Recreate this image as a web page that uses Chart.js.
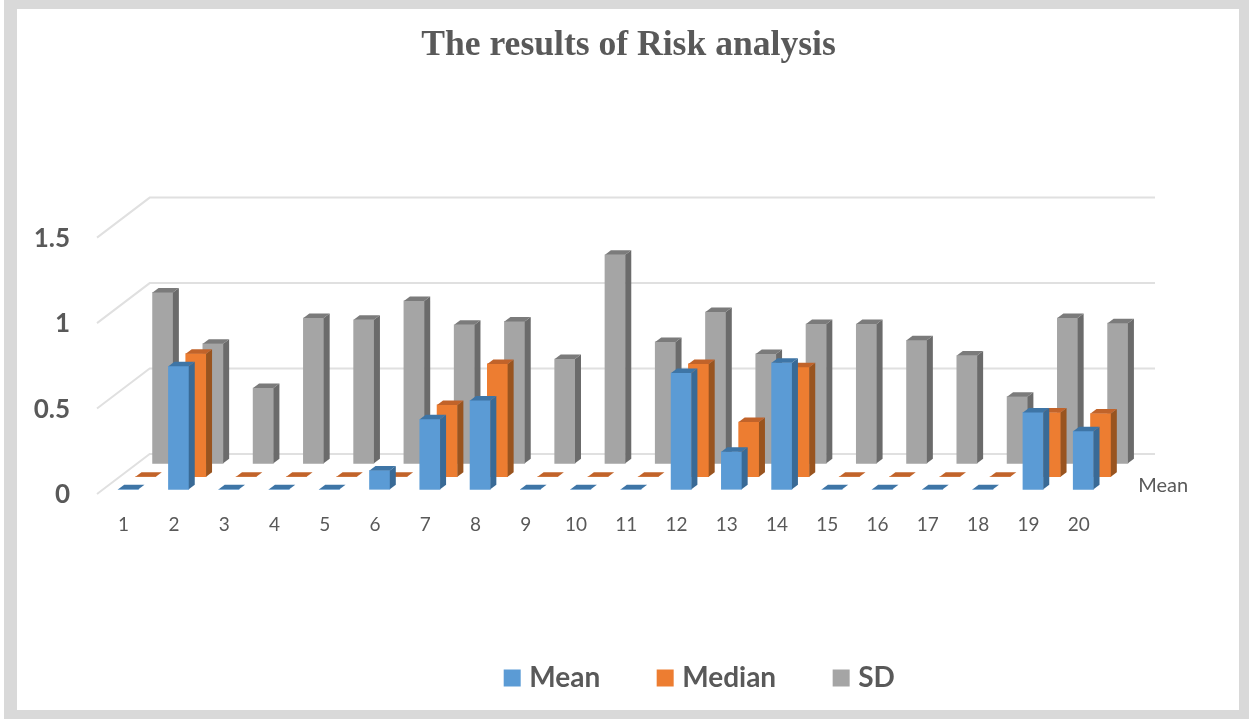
<!DOCTYPE html>
<html>
<head>
<meta charset="utf-8">
<title>The results of Risk analysis</title>
<script src="https://cdn.jsdelivr.net/npm/chart.js@4/dist/chart.umd.min.js"></script>
<style>
html,body{margin:0;padding:0;background:#fff;width:1249px;height:719px;overflow:hidden;}
#frame{position:absolute;left:4px;top:0;width:1222px;height:701px;border:solid #d9d9d9;border-width:9px 10px 9px 13px;}
#myChart{position:absolute;left:0;top:0;}
</style>
</head>
<body>
<div id="frame"></div>
<canvas id="myChart" width="1249" height="719"></canvas>
<script>
var categories = ['1','2','3','4','5','6','7','8','9','10','11','12','13','14','15','16','17','18','19','20'];
var meanValues = [0,0.72,0,0,0,0.11,0.41,0.52,0,0,0,0.68,0.22,0.74,0,0,0,0,0.45,0.34];
var medianValues = [0,0.72,0,0,0,0,0.42,0.66,0,0,0,0.66,0.32,0.64,0,0,0,0,0.375,0.37];
var sdValues = [1,0.7,0.44,0.85,0.84,0.95,0.81,0.83,0.61,1.22,0.71,0.885,0.64,0.815,0.815,0.72,0.63,0.39,0.85,0.82];
var depthLabel = 'Mean';

// 3D look: every series sits further back on the floor
var seriesShift = [[6.2,-4.7],[23.5,-17.3],[40.6,-30.7]];
var sideColor = ['#396a96','#99541f','#6b6b6b'];
var topColor = ['#3e75a6','#c1632a','#7b7b7b'];
var barDepth = [6,-4.5];
var wallShift = [52.7,-40];
var textColor = '#595959';

var fake3d = {
	id : 'fake3d',
	afterLayout : function(chart){
		// legend and title are not centred on the canvas in the original
		chart.legend.left = 155;
		chart.legend.right = 1249;
		chart.legend.top = 602;
		chart.titleBlock.left = 8;
		chart.titleBlock.right = 1249;
	},
	beforeDatasetsDraw : function(chart){
		var ctx = chart.ctx;
		var area = chart.chartArea;
		ctx.save();
		ctx.strokeStyle = '#e0e0e0';
		ctx.lineWidth = 2;
		chart.scales.y.ticks.forEach(function(t){
			var y = chart.scales.y.getPixelForValue(t.value);
			ctx.beginPath();
			ctx.moveTo(area.left, y);
			ctx.lineTo(area.left + wallShift[0], y + wallShift[1]);
			ctx.lineTo(area.right + wallShift[0], y + wallShift[1]);
			ctx.stroke();
		});
		ctx.fillStyle = textColor;
		ctx.font = '20px Lato';
		ctx.textBaseline = 'middle';
		ctx.fillText(depthLabel, area.right + 36, area.bottom - 8);
		ctx.restore();
	},
	beforeDatasetDraw : function(chart, args){
		var s = seriesShift[args.index];
		chart.ctx.save();
		chart.ctx.translate(s[0], s[1]);
	},
	afterDatasetDraw : function(chart, args){
		var ctx = chart.ctx;
		var dx = barDepth[0], dy = barDepth[1];
		args.meta.data.forEach(function(bar){
			var l = bar.x - bar.width / 2, r = bar.x + bar.width / 2;
			ctx.fillStyle = sideColor[args.index];
			ctx.beginPath();
			ctx.moveTo(r, bar.y);
			ctx.lineTo(r + dx, bar.y + dy);
			ctx.lineTo(r + dx, bar.base + dy);
			ctx.lineTo(r, bar.base);
			ctx.closePath();
			ctx.fill();
			ctx.fillStyle = topColor[args.index];
			ctx.beginPath();
			ctx.moveTo(l, bar.y);
			ctx.lineTo(l + dx, bar.y + dy);
			ctx.lineTo(r + dx, bar.y + dy);
			ctx.lineTo(r, bar.y);
			ctx.closePath();
			ctx.fill();
		});
		ctx.restore();
	}
};

new Chart(document.getElementById('myChart').getContext('2d'), {
	type : 'bar',
	plugins : [fake3d],
	data : {
		labels : categories,
		datasets : [
			{label : 'Mean', data : meanValues, backgroundColor : '#5b9bd5', borderWidth : 0},
			{label : 'Median', data : medianValues, backgroundColor : '#ed7d31', borderWidth : 0},
			{label : 'SD', data : sdValues, backgroundColor : '#a5a5a5', borderWidth : 0}
		]
	},
	options : {
		responsive : false,
		animation : false,
		grouped : false,
		barThickness : 20.3,
		clip : false,
		layout : {padding : {left : 0, right : 146.7, top : 0, bottom : 0}},
		plugins : {
			tooltip : {enabled : false},
			title : {
				display : true,
				text : 'The results of Risk analysis',
				color : textColor,
				font : {family : '"Liberation Serif"', size : 35.6, weight : 'bold', lineHeight : 1.2},
				padding : {top : 24.7, bottom : 170.2}
			},
			legend : {
				position : 'bottom',
				labels : {
					color : textColor,
					font : {family : 'Lato', size : 28, weight : 'bold'},
					usePointStyle : true,
					pointStyle : 'rect',
					boxWidth : 6,
					boxHeight : 17,
					padding : 62
				}
			}
		},
		scales : {
			x : {
				grid : {display : false},
				border : {display : false},
				ticks : {color : textColor, font : {family : 'Lato', size : 19}, padding : 11, labelOffset : 1.5, maxRotation : 0, autoSkip : false},
				afterFit : function(scale){ scale.height = 225 - scale.chart.legend.height; }
			},
			y : {
				min : 0,
				max : 1.5,
				grid : {display : false},
				border : {display : false},
				ticks : {stepSize : 0.5, color : textColor, font : {family : 'Lato', size : 26, weight : 'bold'}, padding : 19, labelOffset : 1, callback : function(v){ return String(v); }},
				afterFit : function(scale){ scale.width = 97; }
			}
		}
	}
});
</script>
</body>
</html>
